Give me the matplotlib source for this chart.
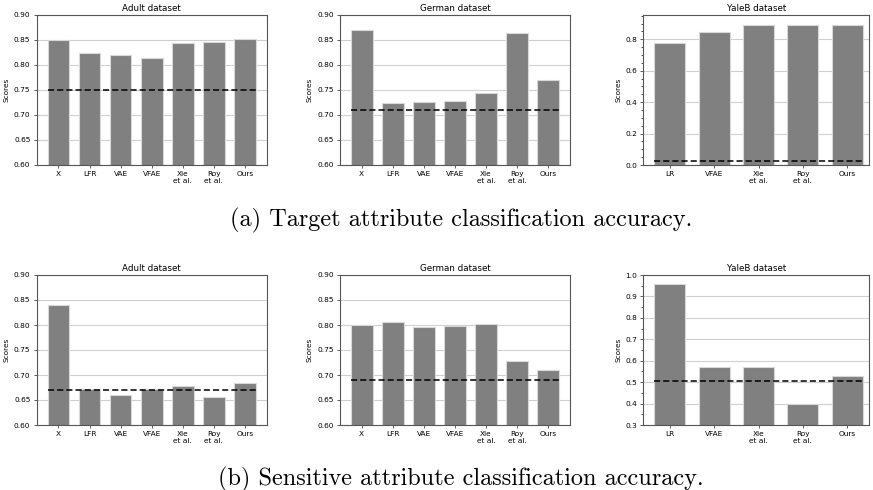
import numpy as np
import matplotlib
matplotlib.use("Agg")
import matplotlib.pyplot as plt
from matplotlib.ticker import AutoMinorLocator, MultipleLocator

# method labels
methods_7 = ["X", "LFR", "VAE", "VFAE", "Xie\net al.", "Roy\net al.", "Ours"]
methods_5 = ["LR", "VFAE", "Xie\net al.", "Roy\net al.", "Ours"]

# (a) target attribute accuracy
adult_target = [0.850, 0.823, 0.819, 0.813, 0.844, 0.846, 0.852]
german_target = [0.870, 0.723, 0.725, 0.727, 0.744, 0.863, 0.770]
yaleb_target = [0.779, 0.849, 0.891, 0.891, 0.893]
adult_target_base = 0.75
german_target_base = 0.71
yaleb_target_base = 0.025

# (b) sensitive attribute accuracy
adult_sens = [0.840, 0.671, 0.660, 0.671, 0.677, 0.655, 0.683]
german_sens = [0.800, 0.805, 0.795, 0.797, 0.802, 0.727, 0.710]
yaleb_sens = [0.960, 0.570, 0.570, 0.400, 0.530]
adult_sens_base = 0.67
german_sens_base = 0.69
yaleb_sens_base = 0.505

W, H = 873, 490
fig = plt.figure(figsize=(W / 100, H / 100), dpi=100)


def panel(rect, labels, vals, base, title, ylim, major, minor=None, xlim=None):
    ax = fig.add_axes(rect)
    x = np.arange(len(vals))
    ax.bar(x, vals, width=0.7, color="#808080", edgecolor="#d8d8d8",
           linewidth=0.8, zorder=2)
    ax.hlines(base, -0.35, len(vals) - 1 + 0.35, colors="black",
              linestyles=(0, (4, 2)), linewidth=1.1, zorder=3)
    ax.set_ylim(*ylim)
    ax.set_xlim(*xlim)
    ax.yaxis.set_major_locator(MultipleLocator(major))
    if minor:
        ax.yaxis.set_minor_locator(AutoMinorLocator(minor))
    ax.yaxis.set_major_formatter(plt.FormatStrFormatter("%.2f" if major < 0.1 else "%.1f"))
    ax.grid(axis="y", color="#d0d0d0", linewidth=0.8, zorder=0)
    ax.set_axisbelow(True)
    ax.set_xticks(x)
    ax.set_xticklabels(labels, fontsize=5.3)
    ax.tick_params(axis="both", labelsize=5.3, length=2.5, width=0.6,
                   color="#444444", pad=2)
    ax.tick_params(axis="y", which="minor", length=1.5, width=0.5)
    for s in ax.spines.values():
        s.set_color("#555555")
        s.set_linewidth(0.8)
    ax.set_ylabel("Scores", fontsize=5.3, labelpad=3)
    ax.set_title(title, fontsize=6.3, pad=3)
    return ax


bw = 230 / W
bh = 150 / H
top_y = 1 - 165 / H
bot_y = 1 - 425 / H
xs = [36.7 / W, 340 / W, 643.3 / W]

panel([xs[0], top_y, bw, bh], methods_7, adult_target, adult_target_base,
      "Adult dataset", (0.60, 0.90), 0.05, xlim=(-0.7, 6.7))
panel([xs[1], top_y, bw, bh], methods_7, german_target, german_target_base,
      "German dataset", (0.60, 0.90), 0.05, xlim=(-0.7, 6.7))
panel([xs[2], top_y, 226 / W, bh], methods_5, yaleb_target, yaleb_target_base,
      "YaleB dataset", (0.0, 0.955), 0.2, minor=4, xlim=(-0.6, 4.5))

panel([xs[0], bot_y, bw, bh], methods_7, adult_sens, adult_sens_base,
      "Adult dataset", (0.60, 0.90), 0.05, xlim=(-0.7, 6.7))
panel([xs[1], bot_y, bw, bh], methods_7, german_sens, german_sens_base,
      "German dataset", (0.60, 0.90), 0.05, xlim=(-0.7, 6.7))
panel([xs[2], bot_y, 226 / W, bh], methods_5, yaleb_sens, yaleb_sens_base,
      "YaleB dataset", (0.3, 1.0), 0.1, minor=2, xlim=(-0.6, 4.5))

fig.text(461 / W, 1 - 226 / H, "(a) Target attribute classification accuracy.",
         family="cmr10", fontsize=17.5, ha="center", va="baseline")
fig.text(461 / W, 1 - 485 / H, "(b) Sensitive attribute classification accuracy.",
         family="cmr10", fontsize=17.5, ha="center", va="baseline")

fig.savefig("out.png", dpi=100)
